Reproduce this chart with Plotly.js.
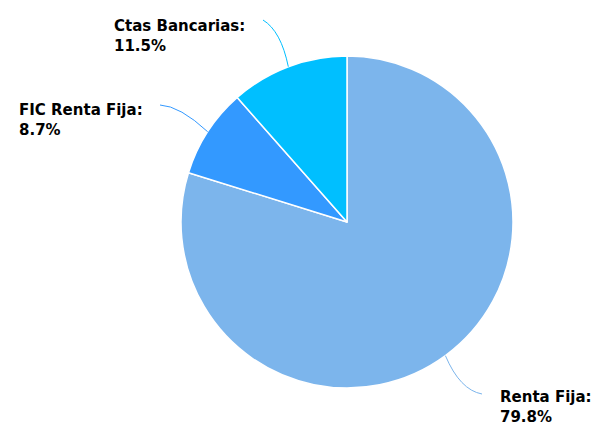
<!DOCTYPE html>
<html>
<head>
<meta charset="utf-8">
<script src="https://cdn.plot.ly/plotly-3.0.1.min.js"></script>
<style>html,body{margin:0;padding:0;background:#fff;}#chart{width:594px;height:427px;}</style>
</head>
<body>
<div id="chart"></div>
<script>
// ---- data ----
const categories = ["Renta Fija", "FIC Renta Fija", "Ctas Bancarias"];
const values = [79.8, 8.7, 11.5];
const colors = ["#7cb5ec", "#3399ff", "#00bfff"];

// ---- layout constants (pixels) ----
const W = 594, H = 427;
const CX = 347, CY = 222, R = 166;
// label text top-left, connector end and control point
const labelCfg = [
  {text: [498, 386], end: [482, 394], ctrl: [460, 390]},
  {text: [17, 99],  end: [160, 105], ctrl: [180, 106]},
  {text: [112, 15], end: [263, 20],  ctrl: [281, 31]}
];

const px = x => x / W;
const py = y => 1 - y / H;

const total = values.reduce((a, b) => a + b, 0);
let cum = 0;
const shapes = [], annotations = [];
values.forEach((v, i) => {
  const mid = (cum + v / 2) / total * 2 * Math.PI;
  cum += v;
  const sx = CX + R * Math.sin(mid), sy = CY - R * Math.cos(mid);
  const c = labelCfg[i];
  shapes.push({
    type: "path", xref: "paper", yref: "paper",
    path: `M ${px(sx)},${py(sy)} Q ${px(c.ctrl[0])},${py(c.ctrl[1])} ${px(c.end[0])},${py(c.end[1])}`,
    line: {color: colors[i], width: 1}
  });
  annotations.push({
    xref: "paper", yref: "paper",
    x: px(c.text[0]), y: py(c.text[1]),
    xanchor: "left", yanchor: "top", align: "left", showarrow: false,
    text: categories[i] + ":<br>" + v.toFixed(1) + "%",
    font: {family: "DejaVu Sans", size: 15, color: "#000", weight: "bold"}
  });
});

const data = [{
  type: "pie",
  labels: categories,
  values: values,
  sort: false,
  direction: "clockwise",
  rotation: 0,
  marker: {colors: colors, line: {color: "#ffffff", width: 1.5}},
  textinfo: "none",
  hoverinfo: "none",
  showlegend: false,
  domain: {x: [px(CX - R), px(CX + R)], y: [py(CY + R), py(CY - R)]}
}];

const layout = {
  width: W, height: H,
  margin: {l: 0, r: 0, t: 0, b: 0},
  paper_bgcolor: "#ffffff",
  showlegend: false,
  shapes: shapes,
  annotations: annotations
};

Plotly.newPlot("chart", data, layout, {displayModeBar: false, staticPlot: true});
</script>
</body>
</html>
